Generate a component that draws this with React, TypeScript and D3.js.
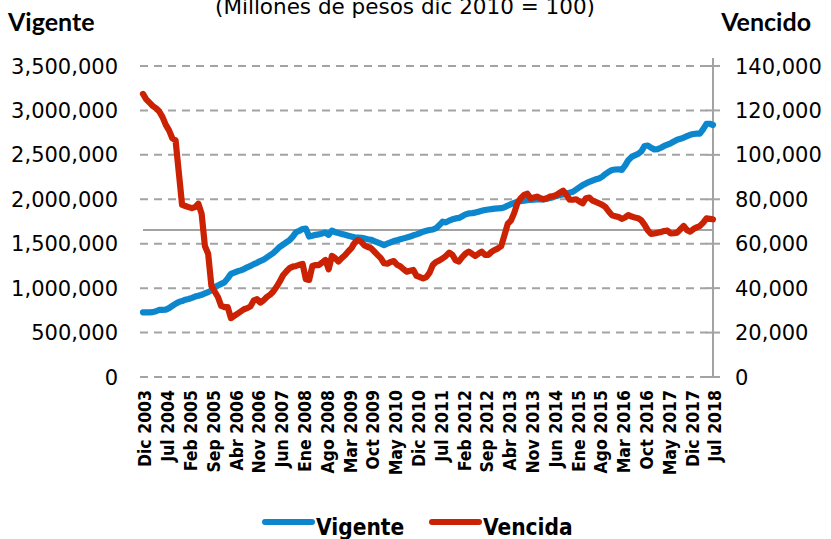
import React from "react";
import * as d3 from "d3";

const MONTHS_ES = ["Ene", "Feb", "Mar", "Abr", "May", "Jun", "Jul", "Ago", "Sep", "Oct", "Nov", "Dic"];
// Monthly categories Dic 2003 .. Jul 2018
const categories: string[] = [];
for (let y = 2003, m = 11; y < 2018 || (y === 2018 && m <= 6); ) {
  categories.push(`${MONTHS_ES[m]} ${y}`);
  m++;
  if (m === 12) { m = 0; y++; }
}

// Vigente (left axis), thousands of pesos
const vigente = [
  728, 728, 728, 730, 740, 755, 755, 758, 775, 800, 825, 845, 855, 870, 878, 890, 905, 915, 925, 940,
  955, 975, 1010, 1030, 1048, 1065, 1110, 1160, 1175, 1190, 1200, 1215, 1235, 1250, 1270, 1285, 1305, 1320, 1345, 1370,
  1395, 1430, 1465, 1490, 1515, 1540, 1580, 1630, 1645, 1665, 1670, 1580, 1590, 1600, 1605, 1615, 1625, 1600, 1647, 1630,
  1620, 1610, 1600, 1590, 1580, 1572, 1570, 1565, 1560, 1550, 1545, 1530, 1515, 1500, 1485, 1500, 1515, 1530, 1540, 1550,
  1560, 1570, 1580, 1595, 1605, 1620, 1635, 1645, 1654, 1660, 1675, 1710, 1748, 1740, 1760, 1775, 1785, 1790, 1810, 1830,
  1841, 1845, 1850, 1860, 1870, 1879, 1885, 1890, 1895, 1898, 1900, 1910, 1930, 1945, 1960, 1973, 1980, 1985, 1990, 1992,
  1995, 1998, 2000, 2000, 2005, 2015, 2025, 2038, 2048, 2055, 2065, 2075, 2085, 2110, 2135, 2160, 2179, 2195, 2210, 2225,
  2235, 2255, 2285, 2310, 2329, 2335, 2338, 2330, 2380, 2440, 2475, 2495, 2510, 2540, 2600, 2605, 2580, 2562, 2565, 2580,
  2600, 2615, 2630, 2650, 2670, 2680, 2695, 2710, 2725, 2735, 2738, 2740, 2790, 2850, 2850, 2836,
];

// Vencida (right axis), thousands of pesos
const vencida = [
  127.4, 125, 123.5, 122, 121, 119.5, 117, 113.5, 111, 107.5, 106.5, 92, 77.5, 77, 76.5, 76, 76.5, 78, 73.5, 59,
  55.5, 41, 38.5, 36, 32, 31.5, 31.5, 26.5, 27.5, 28.5, 29.5, 30.5, 31, 31.8, 34.5, 35, 33.5, 34.5, 36, 37,
  38.5, 40.6, 43, 45.8, 47.5, 49, 49.7, 50, 50.5, 50.9, 44, 43.7, 50, 50.4, 50.4, 51.5, 52.7, 48.5, 54.5, 53.5,
  52, 53.5, 54.8, 56.5, 58, 60.5, 61.7, 60.8, 59.2, 58.5, 58, 56.5, 55, 53.5, 51.2, 51, 51.8, 52.2, 50.5, 49.8,
  48.5, 47.4, 47.8, 48.2, 45.5, 45, 44.4, 45, 47, 50.5, 51.8, 52.5, 53.4, 54.5, 56, 55, 52.5, 52, 54, 55.5,
  56.4, 55.5, 54.5, 55.5, 56.4, 55, 55, 56.3, 57.2, 57.9, 59, 64, 69, 70.5, 74, 78.5, 80.5, 82, 82.5, 80.4,
  80.8, 81.2, 80.5, 80, 80.5, 81.2, 81.5, 82, 83, 83.9, 82, 79.8, 79.8, 80, 79, 78.2, 80.5, 80.8, 79.4, 78.8,
  78.2, 77.5, 76.5, 74.5, 72.8, 72.4, 72, 71.2, 71.8, 72.9, 72.2, 71.8, 71.5, 70.5, 68.5, 66, 64.4, 64.6, 64.9, 65.3,
  65.7, 65.9, 64.6, 64.7, 65, 66.5, 68, 66.2, 65.4, 66.6, 67.4, 68, 69.5, 71.4, 71.2, 71,
];

const leftTicks = [0, 500000, 1000000, 1500000, 2000000, 2500000, 3000000, 3500000];
const rightTicks = [0, 20000, 40000, 60000, 80000, 100000, 120000, 140000];
const crossingValue = 1655000; // horizontal category-axis line (left-axis units)
const labelEvery = 7;

const BLUE = "#0C87CE";
const RED = "#CC2204";
const GRID = "#A3A3A3";
const TICK_FONT = "'DejaVu Sans', sans-serif";
const BOLD_FONT = "'DejaVu Sans Condensed', 'DejaVu Sans', sans-serif";

export default function App() {
  const W = 831, H = 539;
  const x0 = 143, x1 = 713, yTop = 66, yBot = 377;
  const x = d3.scalePoint<string>().domain(categories).range([x0, x1]);
  const yL = d3.scaleLinear().domain([0, 3500000]).range([yBot, yTop]);
  const yR = d3.scaleLinear().domain([0, 140000]).range([yBot, yTop]);
  const fmt = d3.format(",");

  const lineL = d3.line<number>().x((_, i) => x(categories[i])!).y((d) => yL(d * 1000));
  const lineR = d3.line<number>().x((_, i) => x(categories[i])!).y((d) => yR(d * 1000));

  return (
    <svg width={W} height={H} style={{ position: "absolute", left: 0, top: 0, background: "#fff" }}>
      {/* titles */}
      <text x={405} y={14} textAnchor="middle" fontFamily={TICK_FONT} fontSize={21.5} fill="#000">
        (Millones de pesos dic 2010 = 100)
      </text>
      <text x={8} y={31} fontFamily="Lato, sans-serif" fontWeight="bold" fontSize={25} fill="#000">Vigente</text>
      <text x={811} y={31} textAnchor="end" fontFamily="Lato, sans-serif" fontWeight="bold" fontSize={25} fill="#000">Vencido</text>

      {/* gridlines */}
      {leftTicks.map((t) => (
        <line key={"g" + t} x1={140} x2={707} y1={yL(t)} y2={yL(t)} stroke={GRID} strokeWidth={2} strokeDasharray="8,6" />
      ))}
      {/* category axis line */}
      <line x1={x0} x2={x1} y1={yL(crossingValue)} y2={yL(crossingValue)} stroke={GRID} strokeWidth={2} />
      {/* right axis */}
      <line x1={x1} x2={x1} y1={yTop - 8} y2={yBot + 1} stroke={GRID} strokeWidth={2} />
      {rightTicks.map((t) => (
        <line key={"rt" + t} x1={x1 - 7} x2={x1 + 7} y1={yR(t)} y2={yR(t)} stroke={GRID} strokeWidth={2} />
      ))}

      {/* left tick labels */}
      {leftTicks.map((t) => (
        <text key={"lt" + t} x={118} y={yL(t)} dy="0.36em" textAnchor="end" fontFamily={TICK_FONT} fontSize={21} fill="#000">
          {fmt(t)}
        </text>
      ))}
      {/* right tick labels */}
      {rightTicks.map((t) => (
        <text key={"rl" + t} x={735} y={yR(t)} dy="0.36em" textAnchor="start" fontFamily={TICK_FONT} fontSize={21} fill="#000">
          {fmt(t)}
        </text>
      ))}

      {/* x labels */}
      {categories.map((c, i) =>
        i % labelEvery === 0 ? (
          <text
            key={"xl" + c}
            transform={`translate(${x(c)! + 2},390) rotate(-90)`}
            dy="0.36em"
            textAnchor="end"
            fontFamily={BOLD_FONT}
            fontWeight="bold"
            fontSize={17.5}
            fill="#000"
          >
            {c}
          </text>
        ) : null
      )}

      {/* series */}
      <path d={lineL(vigente)!} fill="none" stroke={BLUE} strokeWidth={6.2} strokeLinejoin="round" strokeLinecap="round" />
      <path d={lineR(vencida)!} fill="none" stroke={RED} strokeWidth={6.2} strokeLinejoin="round" strokeLinecap="round" />

      {/* legend */}
      <line x1={265} x2={312} y1={522} y2={522} stroke={BLUE} strokeWidth={6} strokeLinecap="round" />
      <text x={316} y={535} fontFamily={BOLD_FONT} fontWeight="bold" fontSize={22.5} fill="#000">Vigente</text>
      <line x1={432} x2={479} y1={522} y2={522} stroke={RED} strokeWidth={6} strokeLinecap="round" />
      <text x={483} y={535} fontFamily={BOLD_FONT} fontWeight="bold" fontSize={22.5} fill="#000">Vencida</text>
    </svg>
  );
}
